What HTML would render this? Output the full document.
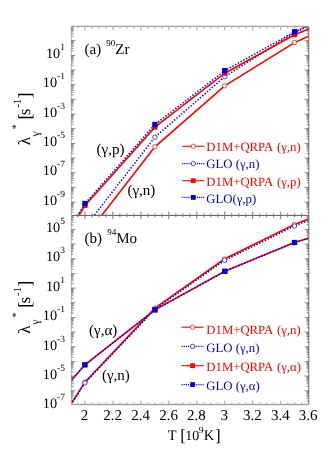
<!DOCTYPE html>
<html><head><meta charset="utf-8"><title>plot</title>
<style>html,body{margin:0;padding:0;background:#fff}svg{display:block;will-change:transform;transform:translateZ(0)}text{font-family:"Liberation Serif",serif;text-rendering:geometricPrecision;}</style>
</head><body>
<svg width="331" height="468" viewBox="0 0 331 468">
<rect width="331" height="468" fill="#fff"/>
<defs><clipPath id="ca"><rect x="71.3" y="26.7" width="237.3" height="188.8"/></clipPath>
<clipPath id="cb"><rect x="71.3" y="215.5" width="237.3" height="188.8"/></clipPath></defs>
<g clip-path="url(#ca)">
<polyline points="85.0,237.0 154.9,146.8 224.7,85.8 294.5,42.6 308.6,36.3" fill="none" stroke="#ff0000" stroke-width="1.6"/>
<circle cx="154.9" cy="146.8" r="2.2" fill="#fff" stroke="#ff0000" stroke-width="0.7"/>
<circle cx="224.7" cy="85.8" r="2.2" fill="#fff" stroke="#ff0000" stroke-width="0.7"/>
<circle cx="294.5" cy="42.6" r="2.2" fill="#fff" stroke="#ff0000" stroke-width="0.7"/>
<polyline points="85.0,227.2 154.9,137.2 224.8,76.6 294.6,32.5 308.6,26.0" fill="none" stroke="#0000d2" stroke-width="1.5" stroke-dasharray="1.4 1.7"/>
<circle cx="154.9" cy="137.2" r="2.2" fill="#fff" stroke="#0000d2" stroke-width="0.7"/>
<circle cx="224.8" cy="76.6" r="2.2" fill="#fff" stroke="#0000d2" stroke-width="0.7"/>
<circle cx="294.6" cy="32.5" r="2.2" fill="#fff" stroke="#0000d2" stroke-width="0.7"/>
<polyline points="71.0,228.5 85.0,205.5 154.9,127.2 224.8,73.2 294.6,34.7 308.6,29.0" fill="none" stroke="#ff0000" stroke-width="1.6"/>
<rect x="82.50" y="203.00" width="5.0" height="5.0" fill="#ff0000"/>
<rect x="152.40" y="124.70" width="5.0" height="5.0" fill="#ff0000"/>
<rect x="222.30" y="70.70" width="5.0" height="5.0" fill="#ff0000"/>
<rect x="292.10" y="32.20" width="5.0" height="5.0" fill="#ff0000"/>
<polyline points="71.0,226.5 85.0,203.5 154.9,124.5 224.8,70.6 294.6,31.8 308.6,25.5" fill="none" stroke="#0000d2" stroke-width="1.5" stroke-dasharray="1.4 1.7"/>
<rect x="82.35" y="200.85" width="5.3" height="5.3" fill="#0000d2"/>
<rect x="152.25" y="121.85" width="5.3" height="5.3" fill="#0000d2"/>
<rect x="222.15" y="67.95" width="5.3" height="5.3" fill="#0000d2"/>
<rect x="291.95" y="29.15" width="5.3" height="5.3" fill="#0000d2"/>
</g>
<g clip-path="url(#cb)">
<polyline points="71.0,404.0 84.9,382.3 154.9,308.2 224.5,259.0 294.4,224.6 308.6,219.1" fill="none" stroke="#ff0000" stroke-width="1.6"/>
<circle cx="84.9" cy="382.3" r="2.2" fill="#fff" stroke="#ff0000" stroke-width="0.7"/>
<circle cx="154.9" cy="308.2" r="2.2" fill="#fff" stroke="#ff0000" stroke-width="0.7"/>
<circle cx="224.5" cy="259.0" r="2.2" fill="#fff" stroke="#ff0000" stroke-width="0.7"/>
<circle cx="294.4" cy="224.6" r="2.2" fill="#fff" stroke="#ff0000" stroke-width="0.7"/>
<polyline points="71.0,404.6 84.9,382.9 154.9,309.3 224.7,260.3 294.5,226.0 308.6,220.5" fill="none" stroke="#0000d2" stroke-width="1.5" stroke-dasharray="1.4 1.7"/>
<circle cx="84.9" cy="382.9" r="2.2" fill="#fff" stroke="#0000d2" stroke-width="0.7"/>
<circle cx="154.9" cy="309.3" r="2.2" fill="#fff" stroke="#0000d2" stroke-width="0.7"/>
<circle cx="224.7" cy="260.3" r="2.2" fill="#fff" stroke="#0000d2" stroke-width="0.7"/>
<circle cx="294.5" cy="226.0" r="2.2" fill="#fff" stroke="#0000d2" stroke-width="0.7"/>
<polyline points="71.0,380.8 84.9,364.8 154.9,309.9 224.8,271.3 294.5,242.5 308.6,238.2" fill="none" stroke="#ff0000" stroke-width="1.6"/>
<rect x="82.40" y="362.30" width="5.0" height="5.0" fill="#ff0000"/>
<rect x="152.40" y="307.40" width="5.0" height="5.0" fill="#ff0000"/>
<rect x="222.30" y="268.80" width="5.0" height="5.0" fill="#ff0000"/>
<rect x="292.00" y="240.00" width="5.0" height="5.0" fill="#ff0000"/>
<polyline points="71.0,380.8 84.9,364.8 154.9,309.9 224.8,271.3 294.5,242.5 308.6,238.2" fill="none" stroke="#0000d2" stroke-width="1.5" stroke-dasharray="1.4 1.7"/>
<rect x="82.25" y="362.15" width="5.3" height="5.3" fill="#0000d2"/>
<rect x="152.25" y="307.25" width="5.3" height="5.3" fill="#0000d2"/>
<rect x="222.15" y="268.65" width="5.3" height="5.3" fill="#0000d2"/>
<rect x="291.85" y="239.85" width="5.3" height="5.3" fill="#0000d2"/>
</g>
<path d="M71.3 26.4H308.8M71.3 404.5H308.8" stroke="#a4a4a4" stroke-width="1.4" fill="none"/>
<path d="M71.3 215.4H308.8" stroke="#5c5c5c" stroke-width="1.0" fill="none"/>
<path d="M71.3 26.4V404.5" stroke="#b4b4b4" stroke-width="1" fill="none"/>
<path d="M308.8 26.4V404.5" stroke="#707070" stroke-width="1" fill="none"/>
<path d="M78.01 26.40L78.01 28.40M78.01 402.50L78.01 404.50M85.00 26.40L85.00 30.20M85.00 400.70L85.00 404.50M91.99 26.40L91.99 28.40M91.99 402.50L91.99 404.50M98.98 26.40L98.98 28.40M98.98 402.50L98.98 404.50M105.96 26.40L105.96 28.40M105.96 402.50L105.96 404.50M112.95 26.40L112.95 30.20M112.95 400.70L112.95 404.50M119.94 26.40L119.94 28.40M119.94 402.50L119.94 404.50M126.92 26.40L126.92 28.40M126.92 402.50L126.92 404.50M133.91 26.40L133.91 28.40M133.91 402.50L133.91 404.50M140.90 26.40L140.90 30.20M140.90 400.70L140.90 404.50M147.89 26.40L147.89 28.40M147.89 402.50L147.89 404.50M154.88 26.40L154.88 28.40M154.88 402.50L154.88 404.50M161.86 26.40L161.86 28.40M161.86 402.50L161.86 404.50M168.85 26.40L168.85 30.20M168.85 400.70L168.85 404.50M175.84 26.40L175.84 28.40M175.84 402.50L175.84 404.50M182.83 26.40L182.83 28.40M182.83 402.50L182.83 404.50M189.81 26.40L189.81 28.40M189.81 402.50L189.81 404.50M196.80 26.40L196.80 30.20M196.80 400.70L196.80 404.50M203.79 26.40L203.79 28.40M203.79 402.50L203.79 404.50M210.77 26.40L210.77 28.40M210.77 402.50L210.77 404.50M217.76 26.40L217.76 28.40M217.76 402.50L217.76 404.50M224.75 26.40L224.75 30.20M224.75 400.70L224.75 404.50M231.74 26.40L231.74 28.40M231.74 402.50L231.74 404.50M238.73 26.40L238.73 28.40M238.73 402.50L238.73 404.50M245.71 26.40L245.71 28.40M245.71 402.50L245.71 404.50M252.70 26.40L252.70 30.20M252.70 400.70L252.70 404.50M259.69 26.40L259.69 28.40M259.69 402.50L259.69 404.50M266.67 26.40L266.67 28.40M266.67 402.50L266.67 404.50M273.66 26.40L273.66 28.40M273.66 402.50L273.66 404.50M280.65 26.40L280.65 30.20M280.65 400.70L280.65 404.50M287.64 26.40L287.64 28.40M287.64 402.50L287.64 404.50M294.62 26.40L294.62 28.40M294.62 402.50L294.62 404.50M301.61 26.40L301.61 28.40M301.61 402.50L301.61 404.50" stroke="#b0b0b0" stroke-width="1.2" fill="none"/>
<path d="M78.01 213.40L78.01 217.40M85.00 211.60L85.00 219.20M91.99 213.40L91.99 217.40M98.98 213.40L98.98 217.40M105.96 213.40L105.96 217.40M112.95 211.60L112.95 219.20M119.94 213.40L119.94 217.40M126.92 213.40L126.92 217.40M133.91 213.40L133.91 217.40M140.90 211.60L140.90 219.20M147.89 213.40L147.89 217.40M154.88 213.40L154.88 217.40M161.86 213.40L161.86 217.40M168.85 211.60L168.85 219.20M175.84 213.40L175.84 217.40M182.83 213.40L182.83 217.40M189.81 213.40L189.81 217.40M196.80 211.60L196.80 219.20M203.79 213.40L203.79 217.40M210.77 213.40L210.77 217.40M217.76 213.40L217.76 217.40M224.75 211.60L224.75 219.20M231.74 213.40L231.74 217.40M238.73 213.40L238.73 217.40M245.71 213.40L245.71 217.40M252.70 211.60L252.70 219.20M259.69 213.40L259.69 217.40M266.67 213.40L266.67 217.40M273.66 213.40L273.66 217.40M280.65 211.60L280.65 219.20M287.64 213.40L287.64 217.40M294.62 213.40L294.62 217.40M301.61 213.40L301.61 217.40" stroke="#7a7a7a" stroke-width="1" fill="none"/>
<path d="M71.30 212.30L73.60 212.30M306.50 212.30L308.80 212.30M71.30 209.72L73.60 209.72M306.50 209.72L308.80 209.72M71.30 207.89L73.60 207.89M306.50 207.89L308.80 207.89M71.30 206.47L73.60 206.47M306.50 206.47L308.80 206.47M71.30 205.30L73.60 205.30M306.50 205.30L308.80 205.30M71.30 204.32L73.60 204.32M306.50 204.32L308.80 204.32M71.30 203.47L73.60 203.47M306.50 203.47L308.80 203.47M71.30 202.72L73.60 202.72M306.50 202.72L308.80 202.72M71.30 202.05L75.50 202.05M304.60 202.05L308.80 202.05M71.30 197.63L73.60 197.63M306.50 197.63L308.80 197.63M71.30 195.05L73.60 195.05M306.50 195.05L308.80 195.05M71.30 193.22L73.60 193.22M306.50 193.22L308.80 193.22M71.30 191.80L73.60 191.80M306.50 191.80L308.80 191.80M71.30 190.63L73.60 190.63M306.50 190.63L308.80 190.63M71.30 189.65L73.60 189.65M306.50 189.65L308.80 189.65M71.30 188.80L73.60 188.80M306.50 188.80L308.80 188.80M71.30 188.05L73.60 188.05M306.50 188.05L308.80 188.05M71.30 187.38L75.50 187.38M304.60 187.38L308.80 187.38M71.30 182.96L73.60 182.96M306.50 182.96L308.80 182.96M71.30 180.38L73.60 180.38M306.50 180.38L308.80 180.38M71.30 178.55L73.60 178.55M306.50 178.55L308.80 178.55M71.30 177.13L73.60 177.13M306.50 177.13L308.80 177.13M71.30 175.96L73.60 175.96M306.50 175.96L308.80 175.96M71.30 174.98L73.60 174.98M306.50 174.98L308.80 174.98M71.30 174.13L73.60 174.13M306.50 174.13L308.80 174.13M71.30 173.38L73.60 173.38M306.50 173.38L308.80 173.38M71.30 172.71L75.50 172.71M304.60 172.71L308.80 172.71M71.30 168.29L73.60 168.29M306.50 168.29L308.80 168.29M71.30 165.71L73.60 165.71M306.50 165.71L308.80 165.71M71.30 163.88L73.60 163.88M306.50 163.88L308.80 163.88M71.30 162.46L73.60 162.46M306.50 162.46L308.80 162.46M71.30 161.29L73.60 161.29M306.50 161.29L308.80 161.29M71.30 160.31L73.60 160.31M306.50 160.31L308.80 160.31M71.30 159.46L73.60 159.46M306.50 159.46L308.80 159.46M71.30 158.71L73.60 158.71M306.50 158.71L308.80 158.71M71.30 158.04L75.50 158.04M304.60 158.04L308.80 158.04M71.30 153.62L73.60 153.62M306.50 153.62L308.80 153.62M71.30 151.04L73.60 151.04M306.50 151.04L308.80 151.04M71.30 149.21L73.60 149.21M306.50 149.21L308.80 149.21M71.30 147.79L73.60 147.79M306.50 147.79L308.80 147.79M71.30 146.62L73.60 146.62M306.50 146.62L308.80 146.62M71.30 145.64L73.60 145.64M306.50 145.64L308.80 145.64M71.30 144.79L73.60 144.79M306.50 144.79L308.80 144.79M71.30 144.04L73.60 144.04M306.50 144.04L308.80 144.04M71.30 143.37L75.50 143.37M304.60 143.37L308.80 143.37M71.30 138.95L73.60 138.95M306.50 138.95L308.80 138.95M71.30 136.37L73.60 136.37M306.50 136.37L308.80 136.37M71.30 134.54L73.60 134.54M306.50 134.54L308.80 134.54M71.30 133.12L73.60 133.12M306.50 133.12L308.80 133.12M71.30 131.95L73.60 131.95M306.50 131.95L308.80 131.95M71.30 130.97L73.60 130.97M306.50 130.97L308.80 130.97M71.30 130.12L73.60 130.12M306.50 130.12L308.80 130.12M71.30 129.37L73.60 129.37M306.50 129.37L308.80 129.37M71.30 128.70L75.50 128.70M304.60 128.70L308.80 128.70M71.30 124.28L73.60 124.28M306.50 124.28L308.80 124.28M71.30 121.70L73.60 121.70M306.50 121.70L308.80 121.70M71.30 119.87L73.60 119.87M306.50 119.87L308.80 119.87M71.30 118.45L73.60 118.45M306.50 118.45L308.80 118.45M71.30 117.28L73.60 117.28M306.50 117.28L308.80 117.28M71.30 116.30L73.60 116.30M306.50 116.30L308.80 116.30M71.30 115.45L73.60 115.45M306.50 115.45L308.80 115.45M71.30 114.70L73.60 114.70M306.50 114.70L308.80 114.70M71.30 114.03L75.50 114.03M304.60 114.03L308.80 114.03M71.30 109.61L73.60 109.61M306.50 109.61L308.80 109.61M71.30 107.03L73.60 107.03M306.50 107.03L308.80 107.03M71.30 105.20L73.60 105.20M306.50 105.20L308.80 105.20M71.30 103.78L73.60 103.78M306.50 103.78L308.80 103.78M71.30 102.61L73.60 102.61M306.50 102.61L308.80 102.61M71.30 101.63L73.60 101.63M306.50 101.63L308.80 101.63M71.30 100.78L73.60 100.78M306.50 100.78L308.80 100.78M71.30 100.03L73.60 100.03M306.50 100.03L308.80 100.03M71.30 99.36L75.50 99.36M304.60 99.36L308.80 99.36M71.30 94.94L73.60 94.94M306.50 94.94L308.80 94.94M71.30 92.36L73.60 92.36M306.50 92.36L308.80 92.36M71.30 90.53L73.60 90.53M306.50 90.53L308.80 90.53M71.30 89.11L73.60 89.11M306.50 89.11L308.80 89.11M71.30 87.94L73.60 87.94M306.50 87.94L308.80 87.94M71.30 86.96L73.60 86.96M306.50 86.96L308.80 86.96M71.30 86.11L73.60 86.11M306.50 86.11L308.80 86.11M71.30 85.36L73.60 85.36M306.50 85.36L308.80 85.36M71.30 84.69L75.50 84.69M304.60 84.69L308.80 84.69M71.30 80.27L73.60 80.27M306.50 80.27L308.80 80.27M71.30 77.69L73.60 77.69M306.50 77.69L308.80 77.69M71.30 75.86L73.60 75.86M306.50 75.86L308.80 75.86M71.30 74.44L73.60 74.44M306.50 74.44L308.80 74.44M71.30 73.27L73.60 73.27M306.50 73.27L308.80 73.27M71.30 72.29L73.60 72.29M306.50 72.29L308.80 72.29M71.30 71.44L73.60 71.44M306.50 71.44L308.80 71.44M71.30 70.69L73.60 70.69M306.50 70.69L308.80 70.69M71.30 70.02L75.50 70.02M304.60 70.02L308.80 70.02M71.30 65.60L73.60 65.60M306.50 65.60L308.80 65.60M71.30 63.02L73.60 63.02M306.50 63.02L308.80 63.02M71.30 61.19L73.60 61.19M306.50 61.19L308.80 61.19M71.30 59.77L73.60 59.77M306.50 59.77L308.80 59.77M71.30 58.60L73.60 58.60M306.50 58.60L308.80 58.60M71.30 57.62L73.60 57.62M306.50 57.62L308.80 57.62M71.30 56.77L73.60 56.77M306.50 56.77L308.80 56.77M71.30 56.02L73.60 56.02M306.50 56.02L308.80 56.02M71.30 55.35L75.50 55.35M304.60 55.35L308.80 55.35M71.30 50.93L73.60 50.93M306.50 50.93L308.80 50.93M71.30 48.35L73.60 48.35M306.50 48.35L308.80 48.35M71.30 46.52L73.60 46.52M306.50 46.52L308.80 46.52M71.30 45.10L73.60 45.10M306.50 45.10L308.80 45.10M71.30 43.93L73.60 43.93M306.50 43.93L308.80 43.93M71.30 42.95L73.60 42.95M306.50 42.95L308.80 42.95M71.30 42.10L73.60 42.10M306.50 42.10L308.80 42.10M71.30 41.35L73.60 41.35M306.50 41.35L308.80 41.35M71.30 40.68L75.50 40.68M304.60 40.68L308.80 40.68M71.30 36.26L73.60 36.26M306.50 36.26L308.80 36.26M71.30 33.68L73.60 33.68M306.50 33.68L308.80 33.68M71.30 31.85L73.60 31.85M306.50 31.85L308.80 31.85M71.30 30.43L73.60 30.43M306.50 30.43L308.80 30.43M71.30 29.26L73.60 29.26M306.50 29.26L308.80 29.26M71.30 28.28L73.60 28.28M306.50 28.28L308.80 28.28M71.30 27.43L73.60 27.43M306.50 27.43L308.80 27.43M71.30 401.02L73.60 401.02M306.50 401.02L308.80 401.02M71.30 398.44L73.60 398.44M306.50 398.44L308.80 398.44M71.30 396.61L73.60 396.61M306.50 396.61L308.80 396.61M71.30 395.19L73.60 395.19M306.50 395.19L308.80 395.19M71.30 394.02L73.60 394.02M306.50 394.02L308.80 394.02M71.30 393.04L73.60 393.04M306.50 393.04L308.80 393.04M71.30 392.19L73.60 392.19M306.50 392.19L308.80 392.19M71.30 391.44L73.60 391.44M306.50 391.44L308.80 391.44M71.30 390.77L75.50 390.77M304.60 390.77L308.80 390.77M71.30 386.35L73.60 386.35M306.50 386.35L308.80 386.35M71.30 383.77L73.60 383.77M306.50 383.77L308.80 383.77M71.30 381.94L73.60 381.94M306.50 381.94L308.80 381.94M71.30 380.52L73.60 380.52M306.50 380.52L308.80 380.52M71.30 379.35L73.60 379.35M306.50 379.35L308.80 379.35M71.30 378.37L73.60 378.37M306.50 378.37L308.80 378.37M71.30 377.52L73.60 377.52M306.50 377.52L308.80 377.52M71.30 376.77L73.60 376.77M306.50 376.77L308.80 376.77M71.30 376.10L75.50 376.10M304.60 376.10L308.80 376.10M71.30 371.68L73.60 371.68M306.50 371.68L308.80 371.68M71.30 369.10L73.60 369.10M306.50 369.10L308.80 369.10M71.30 367.27L73.60 367.27M306.50 367.27L308.80 367.27M71.30 365.85L73.60 365.85M306.50 365.85L308.80 365.85M71.30 364.68L73.60 364.68M306.50 364.68L308.80 364.68M71.30 363.70L73.60 363.70M306.50 363.70L308.80 363.70M71.30 362.85L73.60 362.85M306.50 362.85L308.80 362.85M71.30 362.10L73.60 362.10M306.50 362.10L308.80 362.10M71.30 361.43L75.50 361.43M304.60 361.43L308.80 361.43M71.30 357.01L73.60 357.01M306.50 357.01L308.80 357.01M71.30 354.43L73.60 354.43M306.50 354.43L308.80 354.43M71.30 352.60L73.60 352.60M306.50 352.60L308.80 352.60M71.30 351.18L73.60 351.18M306.50 351.18L308.80 351.18M71.30 350.01L73.60 350.01M306.50 350.01L308.80 350.01M71.30 349.03L73.60 349.03M306.50 349.03L308.80 349.03M71.30 348.18L73.60 348.18M306.50 348.18L308.80 348.18M71.30 347.43L73.60 347.43M306.50 347.43L308.80 347.43M71.30 346.76L75.50 346.76M304.60 346.76L308.80 346.76M71.30 342.34L73.60 342.34M306.50 342.34L308.80 342.34M71.30 339.76L73.60 339.76M306.50 339.76L308.80 339.76M71.30 337.93L73.60 337.93M306.50 337.93L308.80 337.93M71.30 336.51L73.60 336.51M306.50 336.51L308.80 336.51M71.30 335.34L73.60 335.34M306.50 335.34L308.80 335.34M71.30 334.36L73.60 334.36M306.50 334.36L308.80 334.36M71.30 333.51L73.60 333.51M306.50 333.51L308.80 333.51M71.30 332.76L73.60 332.76M306.50 332.76L308.80 332.76M71.30 332.09L75.50 332.09M304.60 332.09L308.80 332.09M71.30 327.67L73.60 327.67M306.50 327.67L308.80 327.67M71.30 325.09L73.60 325.09M306.50 325.09L308.80 325.09M71.30 323.26L73.60 323.26M306.50 323.26L308.80 323.26M71.30 321.84L73.60 321.84M306.50 321.84L308.80 321.84M71.30 320.67L73.60 320.67M306.50 320.67L308.80 320.67M71.30 319.69L73.60 319.69M306.50 319.69L308.80 319.69M71.30 318.84L73.60 318.84M306.50 318.84L308.80 318.84M71.30 318.09L73.60 318.09M306.50 318.09L308.80 318.09M71.30 317.42L75.50 317.42M304.60 317.42L308.80 317.42M71.30 313.00L73.60 313.00M306.50 313.00L308.80 313.00M71.30 310.42L73.60 310.42M306.50 310.42L308.80 310.42M71.30 308.59L73.60 308.59M306.50 308.59L308.80 308.59M71.30 307.17L73.60 307.17M306.50 307.17L308.80 307.17M71.30 306.00L73.60 306.00M306.50 306.00L308.80 306.00M71.30 305.02L73.60 305.02M306.50 305.02L308.80 305.02M71.30 304.17L73.60 304.17M306.50 304.17L308.80 304.17M71.30 303.42L73.60 303.42M306.50 303.42L308.80 303.42M71.30 302.75L75.50 302.75M304.60 302.75L308.80 302.75M71.30 298.33L73.60 298.33M306.50 298.33L308.80 298.33M71.30 295.75L73.60 295.75M306.50 295.75L308.80 295.75M71.30 293.92L73.60 293.92M306.50 293.92L308.80 293.92M71.30 292.50L73.60 292.50M306.50 292.50L308.80 292.50M71.30 291.33L73.60 291.33M306.50 291.33L308.80 291.33M71.30 290.35L73.60 290.35M306.50 290.35L308.80 290.35M71.30 289.50L73.60 289.50M306.50 289.50L308.80 289.50M71.30 288.75L73.60 288.75M306.50 288.75L308.80 288.75M71.30 288.08L75.50 288.08M304.60 288.08L308.80 288.08M71.30 283.66L73.60 283.66M306.50 283.66L308.80 283.66M71.30 281.08L73.60 281.08M306.50 281.08L308.80 281.08M71.30 279.25L73.60 279.25M306.50 279.25L308.80 279.25M71.30 277.83L73.60 277.83M306.50 277.83L308.80 277.83M71.30 276.66L73.60 276.66M306.50 276.66L308.80 276.66M71.30 275.68L73.60 275.68M306.50 275.68L308.80 275.68M71.30 274.83L73.60 274.83M306.50 274.83L308.80 274.83M71.30 274.08L73.60 274.08M306.50 274.08L308.80 274.08M71.30 273.41L75.50 273.41M304.60 273.41L308.80 273.41M71.30 268.99L73.60 268.99M306.50 268.99L308.80 268.99M71.30 266.41L73.60 266.41M306.50 266.41L308.80 266.41M71.30 264.58L73.60 264.58M306.50 264.58L308.80 264.58M71.30 263.16L73.60 263.16M306.50 263.16L308.80 263.16M71.30 261.99L73.60 261.99M306.50 261.99L308.80 261.99M71.30 261.01L73.60 261.01M306.50 261.01L308.80 261.01M71.30 260.16L73.60 260.16M306.50 260.16L308.80 260.16M71.30 259.41L73.60 259.41M306.50 259.41L308.80 259.41M71.30 258.74L75.50 258.74M304.60 258.74L308.80 258.74M71.30 254.32L73.60 254.32M306.50 254.32L308.80 254.32M71.30 251.74L73.60 251.74M306.50 251.74L308.80 251.74M71.30 249.91L73.60 249.91M306.50 249.91L308.80 249.91M71.30 248.49L73.60 248.49M306.50 248.49L308.80 248.49M71.30 247.32L73.60 247.32M306.50 247.32L308.80 247.32M71.30 246.34L73.60 246.34M306.50 246.34L308.80 246.34M71.30 245.49L73.60 245.49M306.50 245.49L308.80 245.49M71.30 244.74L73.60 244.74M306.50 244.74L308.80 244.74M71.30 244.07L75.50 244.07M304.60 244.07L308.80 244.07M71.30 239.65L73.60 239.65M306.50 239.65L308.80 239.65M71.30 237.07L73.60 237.07M306.50 237.07L308.80 237.07M71.30 235.24L73.60 235.24M306.50 235.24L308.80 235.24M71.30 233.82L73.60 233.82M306.50 233.82L308.80 233.82M71.30 232.65L73.60 232.65M306.50 232.65L308.80 232.65M71.30 231.67L73.60 231.67M306.50 231.67L308.80 231.67M71.30 230.82L73.60 230.82M306.50 230.82L308.80 230.82M71.30 230.07L73.60 230.07M306.50 230.07L308.80 230.07M71.30 229.40L75.50 229.40M304.60 229.40L308.80 229.40M71.30 224.98L73.60 224.98M306.50 224.98L308.80 224.98M71.30 222.40L73.60 222.40M306.50 222.40L308.80 222.40M71.30 220.57L73.60 220.57M306.50 220.57L308.80 220.57M71.30 219.15L73.60 219.15M306.50 219.15L308.80 219.15M71.30 217.98L73.60 217.98M306.50 217.98L308.80 217.98M71.30 217.00L73.60 217.00M306.50 217.00L308.80 217.00M71.30 216.15L73.60 216.15M306.50 216.15L308.80 216.15" stroke="#606060" stroke-width="0.7" fill="none"/>
<text x="65" y="58.1" text-anchor="end" font-size="14.3" fill="#000">10<tspan font-size="9.5" dy="-8">1</tspan></text>
<text x="65" y="87.4" text-anchor="end" font-size="14.3" fill="#000">10<tspan font-size="9.5" dy="-8">-1</tspan></text>
<text x="65" y="116.7" text-anchor="end" font-size="14.3" fill="#000">10<tspan font-size="9.5" dy="-8">-3</tspan></text>
<text x="65" y="146.1" text-anchor="end" font-size="14.3" fill="#000">10<tspan font-size="9.5" dy="-8">-5</tspan></text>
<text x="65" y="175.4" text-anchor="end" font-size="14.3" fill="#000">10<tspan font-size="9.5" dy="-8">-7</tspan></text>
<text x="65" y="204.7" text-anchor="end" font-size="14.3" fill="#000">10<tspan font-size="9.5" dy="-8">-9</tspan></text>
<text x="65" y="232.1" text-anchor="end" font-size="14.3" fill="#000">10<tspan font-size="9.5" dy="-8">5</tspan></text>
<text x="65" y="261.4" text-anchor="end" font-size="14.3" fill="#000">10<tspan font-size="9.5" dy="-8">3</tspan></text>
<text x="65" y="290.8" text-anchor="end" font-size="14.3" fill="#000">10<tspan font-size="9.5" dy="-8">1</tspan></text>
<text x="65" y="320.1" text-anchor="end" font-size="14.3" fill="#000">10<tspan font-size="9.5" dy="-8">-1</tspan></text>
<text x="65" y="349.5" text-anchor="end" font-size="14.3" fill="#000">10<tspan font-size="9.5" dy="-8">-3</tspan></text>
<text x="65" y="378.8" text-anchor="end" font-size="14.3" fill="#000">10<tspan font-size="9.5" dy="-8">-5</tspan></text>
<text x="65" y="408.1" text-anchor="end" font-size="14.3" fill="#000">10<tspan font-size="9.5" dy="-8">-7</tspan></text>
<text x="84.6" y="420.0" text-anchor="middle" font-size="15" fill="#000">2</text>
<text x="112.6" y="420.0" text-anchor="middle" font-size="15" fill="#000">2.2</text>
<text x="140.5" y="420.0" text-anchor="middle" font-size="15" fill="#000">2.4</text>
<text x="168.5" y="420.0" text-anchor="middle" font-size="15" fill="#000">2.6</text>
<text x="196.4" y="420.0" text-anchor="middle" font-size="15" fill="#000">2.8</text>
<text x="224.3" y="420.0" text-anchor="middle" font-size="15" fill="#000">3</text>
<text x="252.3" y="420.0" text-anchor="middle" font-size="15" fill="#000">3.2</text>
<text x="280.3" y="420.0" text-anchor="middle" font-size="15" fill="#000">3.4</text>
<text x="308.2" y="420.0" text-anchor="middle" font-size="15" fill="#000">3.6</text>
<text x="167.75" y="440.0" font-size="14.5" fill="#000">T</text><text x="180.3" y="440.5" font-size="17" fill="#000">[</text><text x="185.15" y="440.0" font-size="14" fill="#000">10</text><text x="198.7" y="432.7" font-size="9.5" fill="#000">9</text><text x="203.7" y="440.0" font-size="14.5" fill="#000">K</text><text x="214.9" y="440.5" font-size="17" fill="#000">]</text>
<text x="84.6" y="53.8" font-size="15" fill="#000">(a) <tspan font-size="9" dy="-7.9" dx="1.3">90</tspan><tspan dy="7.9">Zr</tspan></text>
<text x="84.6" y="242.6" font-size="15" fill="#000">(b) <tspan font-size="9" dy="-7.9" dx="1.3">94</tspan><tspan dy="7.9">Mo</tspan></text>
<text x="96.6" y="153.7" font-size="15" fill="#000">(γ,p)</text>
<text x="127.5" y="195.4" font-size="15" fill="#000">(γ,n)</text>
<text x="89.1" y="334.6" font-size="15" fill="#000">(γ,α)</text>
<text x="102.0" y="379.8" font-size="15" fill="#000">(γ,n)</text>
<line x1="182.2" y1="146.3" x2="204.4" y2="146.3" stroke="#ff0000" stroke-width="1.1"/>
<circle cx="193.3" cy="146.3" r="2.2" fill="#fff" stroke="#ff0000" stroke-width="0.7"/>
<text x="206.3" y="151.2" font-size="12.75" fill="#ff0000">D1M+QRPA <tspan dx="1.2">(γ,n)</tspan></text>
<line x1="182.2" y1="163.6" x2="204.4" y2="163.6" stroke="#0000d2" stroke-width="1.1" stroke-dasharray="1.1 1.0"/>
<circle cx="193.3" cy="163.6" r="2.2" fill="#fff" stroke="#0000d2" stroke-width="0.7"/>
<text x="206.3" y="168.3" font-size="12.75" fill="#0000d2">GLO (γ,n)</text>
<line x1="182.2" y1="180.7" x2="204.4" y2="180.7" stroke="#ff0000" stroke-width="1.1"/>
<rect x="190.90" y="178.30" width="4.8" height="4.8" fill="#ff0000"/>
<text x="206.3" y="185.8" font-size="12.75" fill="#ff0000">D1M+QRPA <tspan dx="1.2">(γ,p)</tspan></text>
<line x1="182.2" y1="197.4" x2="204.4" y2="197.4" stroke="#0000d2" stroke-width="1.1" stroke-dasharray="1.1 1.0"/>
<rect x="190.90" y="195.00" width="4.8" height="4.8" fill="#0000d2"/>
<text x="206.3" y="202.8" font-size="12.75" fill="#0000d2">GLO(γ,p)</text>
<line x1="181.6" y1="327.2" x2="203.6" y2="327.2" stroke="#ff0000" stroke-width="1.1"/>
<circle cx="192.6" cy="327.2" r="2.2" fill="#fff" stroke="#ff0000" stroke-width="0.7"/>
<text x="206.3" y="333.5" font-size="12.75" fill="#ff0000">D1M+QRPA <tspan dx="1.2">(γ,n)</tspan></text>
<line x1="181.6" y1="346.4" x2="203.6" y2="346.4" stroke="#0000d2" stroke-width="1.1" stroke-dasharray="1.1 1.0"/>
<circle cx="192.6" cy="346.4" r="2.2" fill="#fff" stroke="#0000d2" stroke-width="0.7"/>
<text x="206.3" y="351.6" font-size="12.75" fill="#0000d2">GLO (γ,n)</text>
<line x1="181.6" y1="365.7" x2="203.6" y2="365.7" stroke="#ff0000" stroke-width="1.1"/>
<rect x="190.20" y="363.30" width="4.8" height="4.8" fill="#ff0000"/>
<text x="206.3" y="371.0" font-size="12.75" fill="#ff0000">D1M+QRPA <tspan dx="1.2">(γ,α)</tspan></text>
<line x1="181.6" y1="384.6" x2="203.6" y2="384.6" stroke="#0000d2" stroke-width="1.1" stroke-dasharray="1.1 1.0"/>
<rect x="190.20" y="382.20" width="4.8" height="4.8" fill="#0000d2"/>
<text x="206.3" y="390.0" font-size="12.75" fill="#0000d2">GLO (γ,α)</text>
<g transform="translate(30,144.4) rotate(-90)" fill="#000">
<text x="-0.9" y="0" font-size="17">λ</text>
<text x="8.0" y="8.6" font-size="12">γ</text>
<text x="15.2" y="-11.5" font-size="10">*</text>
<text x="25.0" y="0.6" font-size="18.5">[</text>
<text x="29.2" y="0" font-size="17">s</text>
<text x="36.6" y="-9.4" font-size="11">-1</text>
<text x="46.0" y="0.6" font-size="18.5">]</text>
</g>
<g transform="translate(30,332.8) rotate(-90)" fill="#000">
<text x="-0.9" y="0" font-size="17">λ</text>
<text x="8.0" y="8.6" font-size="12">γ</text>
<text x="15.2" y="-11.5" font-size="10">*</text>
<text x="25.0" y="0.6" font-size="18.5">[</text>
<text x="29.2" y="0" font-size="17">s</text>
<text x="36.6" y="-9.4" font-size="11">-1</text>
<text x="46.0" y="0.6" font-size="18.5">]</text>
</g>
</svg></body></html>
